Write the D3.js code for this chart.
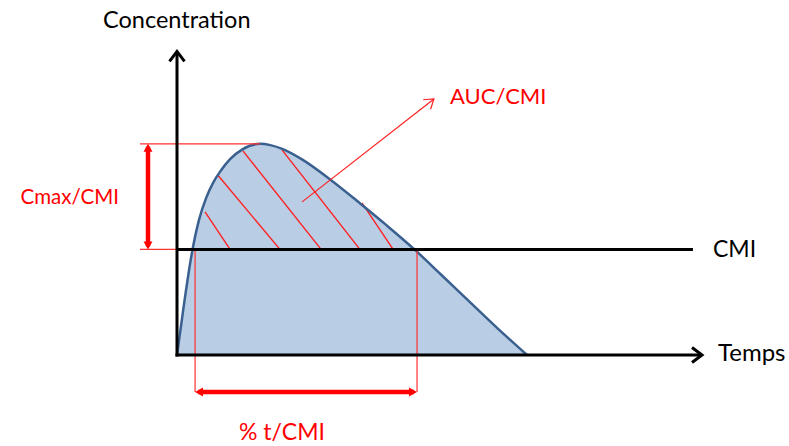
<!DOCTYPE html>
<html>
<head>
<meta charset="utf-8">
<script src="https://cdn.jsdelivr.net/npm/d3@7/dist/d3.min.js"></script>
<style>
  html, body { margin: 0; padding: 0; background: #fff; }
  svg { display: block; }
  text { font-family: Lato, "Open Sans", "Liberation Sans", sans-serif; }
</style>
</head>
<body>
<script>
// ---- data (time in h, concentration in arbitrary units) ----
const curveTime = [0, 0.25, 0.5, 0.75, 1.0, 1.25, 1.5, 1.82, 2.23, 2.85, 3.2, 3.63, 4.3, 5.25, 6.27, 7.2, 8.16, 9.05, 10.0, 11.0, 12.0];
const curveConc = [0, 2.0, 3.8, 5.1, 5.95, 6.55, 6.98, 7.42, 7.78, 8.0, 7.95, 7.80, 7.40, 6.65, 5.75, 4.9, 3.98, 3.05, 2.05, 1.0, 0];
const CMI = 4;
const CMAX = 8;
const tAboveStart = 0.62;   // left red guide
const tAboveEnd = 8.23;     // right red guide
// hatch segments (start/end) inside AUC above CMI
const hatchT0 = [0.96, 1.41, 2.26, 3.60, 6.34];
const hatchC0 = [5.42, 6.80, 7.73, 7.77, 5.76];
const hatchT1 = [1.82, 3.53, 4.94, 6.27, 7.41];
const hatchC1 = [4.0, 4.0, 4.0, 4.0, 4.0];
// AUC pointer (from, to)
const aucArrowT = [4.29, 8.81];
const aucArrowC = [5.80, 9.70];
const xMax = 18, yMax = 11.5, cmiLineEnd = 17.69;
const labels = { y: "Concentration", x: "Temps", cmi: "CMI", auc: "AUC/CMI", cmax: "Cmax/CMI", time: "% t/CMI" };

// ---- setup ----
const W = 789, H = 446;
const svg = d3.select("body").append("svg").attr("width", W).attr("height", H);
const x = d3.scaleLinear().domain([0, xMax]).range([177, 702]);
const y = d3.scaleLinear().domain([0, yMax]).range([355, 51.4]);

const defs = svg.append("defs");
function chevron(id, color, sw, back, half) {
  defs.append("marker").attr("id", id)
    .attr("markerUnits", "userSpaceOnUse")
    .attr("viewBox", `${-back - sw} ${-half - sw} ${back + 2 * sw} ${2 * half + 2 * sw}`)
    .attr("refX", 0).attr("refY", 0)
    .attr("markerWidth", back + 2 * sw).attr("markerHeight", 2 * half + 2 * sw)
    .attr("orient", "auto")
    .append("path").attr("d", `M${-back},${-half}L0,0L${-back},${half}`)
    .attr("fill", "none").attr("stroke", color).attr("stroke-width", sw)
    .attr("stroke-linejoin", "miter");
}
chevron("axisArrow", "#000", 3, 10, 7.5);
chevron("aucArrow", "#ff2020", 1.2, 9, 6);
defs.append("marker").attr("id", "redHead")
  .attr("markerUnits", "userSpaceOnUse")
  .attr("viewBox", "-4 -5 8 10").attr("refX", 1).attr("refY", 0)
  .attr("markerWidth", 8).attr("markerHeight", 10)
  .attr("orient", "auto-start-reverse")
  .append("path").attr("d", "M-4,-4.5L4,0L-4,4.5Z").attr("fill", "#ff0000");

const pts = curveTime.map((t, i) => [t, curveConc[i]]);

// area fill
svg.append("path").datum(pts)
  .attr("d", d3.area().x(d => x(d[0])).y0(y(0)).y1(d => y(d[1])).curve(d3.curveMonotoneX))
  .attr("fill", "#b9cde5");

// hatch lines
svg.append("g").selectAll("line").data(hatchT0).join("line")
  .attr("x1", (d, i) => x(hatchT0[i])).attr("y1", (d, i) => y(hatchC0[i]))
  .attr("x2", (d, i) => x(hatchT1[i])).attr("y2", (d, i) => y(hatchC1[i]))
  .attr("stroke", "#ff2020").attr("stroke-width", 1.4);

// curve outline
svg.append("path").datum(pts)
  .attr("d", d3.line().x(d => x(d[0])).y(d => y(d[1])).curve(d3.curveMonotoneX))
  .attr("fill", "none").attr("stroke", "#3a6090").attr("stroke-width", 2.5);

// thin red guides
const guide = svg.append("g").attr("stroke", "#ff3030").attr("stroke-width", 1.2).attr("fill", "none");
guide.append("line").attr("x1", x(0) - 37).attr("x2", x(2.85)).attr("y1", y(CMAX)).attr("y2", y(CMAX));
guide.append("line").attr("x1", x(0) - 37).attr("x2", x(0)).attr("y1", y(CMI)).attr("y2", y(CMI));
guide.append("line").attr("x1", x(tAboveStart)).attr("x2", x(tAboveStart)).attr("y1", y(CMI)).attr("y2", y(0) + 37);
guide.append("line").attr("x1", x(tAboveEnd)).attr("x2", x(tAboveEnd)).attr("y1", y(CMI)).attr("y2", y(0) + 37);

// AUC pointer
svg.append("line")
  .attr("x1", x(aucArrowT[0])).attr("y1", y(aucArrowC[0]))
  .attr("x2", x(aucArrowT[1])).attr("y2", y(aucArrowC[1]))
  .attr("stroke", "#ff2020").attr("stroke-width", 1.2)
  .attr("marker-end", "url(#aucArrow)");

// CMI line
svg.append("line").attr("x1", x(0)).attr("x2", x(cmiLineEnd)).attr("y1", y(CMI)).attr("y2", y(CMI))
  .attr("stroke", "#000").attr("stroke-width", 3);

// axes
svg.append("line").attr("x1", x(0) - 1.5).attr("x2", x(xMax)).attr("y1", y(0)).attr("y2", y(0))
  .attr("stroke", "#000").attr("stroke-width", 3).attr("marker-end", "url(#axisArrow)");
svg.append("line").attr("x1", x(0)).attr("x2", x(0)).attr("y1", y(0) + 1.5).attr("y2", y(yMax))
  .attr("stroke", "#000").attr("stroke-width", 3).attr("marker-end", "url(#axisArrow)");

// thick red double arrows
svg.append("line").attr("x1", x(0) - 29).attr("x2", x(0) - 29).attr("y1", y(CMAX) + 3).attr("y2", y(CMI) - 3)
  .attr("stroke", "#ff0000").attr("stroke-width", 4.5)
  .attr("marker-start", "url(#redHead)").attr("marker-end", "url(#redHead)");
svg.append("line").attr("x1", x(tAboveStart) + 3).attr("x2", x(tAboveEnd) - 3).attr("y1", y(0) + 37).attr("y2", y(0) + 37)
  .attr("stroke", "#ff0000").attr("stroke-width", 4.5)
  .attr("marker-start", "url(#redHead)").attr("marker-end", "url(#redHead)");

// labels
svg.append("text").attr("x", 103).attr("y", 28).attr("font-size", 23.5).attr("fill", "#000").text(labels.y);
svg.append("text").attr("x", 718).attr("y", 361).attr("font-size", 24).attr("fill", "#000").text(labels.x);
svg.append("text").attr("x", 713).attr("y", 257).attr("font-size", 23).attr("fill", "#000").text(labels.cmi);
svg.append("text").attr("x", 450).attr("y", 104).attr("font-size", 22).attr("fill", "#ff0000").text(labels.auc);
svg.append("text").attr("x", 119).attr("y", 204).attr("text-anchor", "end").attr("font-size", 20.5).attr("fill", "#ff0000").text(labels.cmax);
svg.append("text").attr("x", 282).attr("y", 440).attr("text-anchor", "middle").attr("font-size", 23).attr("fill", "#ff0000").text(labels.time);
</script>
</body>
</html>
